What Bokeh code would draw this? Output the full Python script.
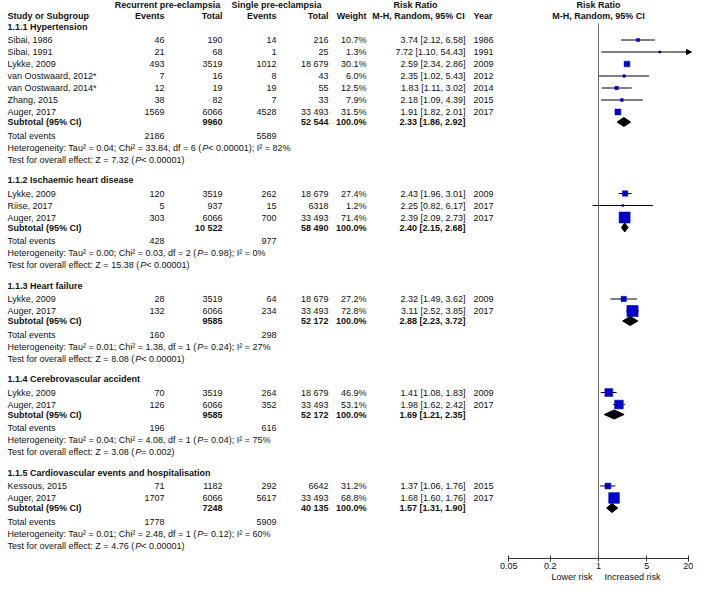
import math
from bokeh.plotting import figure
from bokeh.models import (Range1d, LogScale, LogAxis, FixedTicker, CustomJSTickFormatter,
                          Arrow, NormalHead)
from bokeh.core.properties import value
from bokeh.embed import file_html
from bokeh.resources import INLINE

# ---------------- data ----------------
groups = ["1.1.1 Hypertension", "1.1.2 Ischaemic heart disease", "1.1.3 Heart failure",
          "1.1.4 Cerebrovascular accident", "1.1.5 Cardiovascular events and hospitalisation"]

study = ["Sibai, 1986", "Sibai, 1991", "Lykke, 2009", "van Oostwaard, 2012*", "van Oostwaard, 2014*",
         "Zhang, 2015", "Auger, 2017",
         "Lykke, 2009", "Riise, 2017", "Auger, 2017",
         "Lykke, 2009", "Auger, 2017",
         "Lykke, 2009", "Auger, 2017",
         "Kessous, 2015", "Auger, 2017"]
group_of = [0, 0, 0, 0, 0, 0, 0, 1, 1, 1, 2, 2, 3, 3, 4, 4]
ev_rec = [46, 21, 493, 7, 12, 38, 1569, 120, 5, 303, 28, 132, 70, 126, 71, 1707]
tot_rec = [190, 68, 3519, 16, 19, 82, 6066, 3519, 937, 6066, 3519, 6066, 3519, 6066, 1182, 6066]
ev_sin = [14, 1, 1012, 8, 19, 7, 4528, 262, 15, 700, 64, 234, 264, 352, 292, 5617]
tot_sin = [216, 25, 18679, 43, 55, 33, 33493, 18679, 6318, 33493, 18679, 33493, 18679, 33493, 6642, 33493]
weight = [10.7, 1.3, 30.1, 6.0, 12.5, 7.9, 31.5, 27.4, 1.2, 71.4, 27.2, 72.8, 46.9, 53.1, 31.2, 68.8]
rr = [3.74, 7.72, 2.59, 2.35, 1.83, 2.18, 1.91, 2.43, 2.25, 2.39, 2.32, 3.11, 1.41, 1.98, 1.37, 1.68]
rr_lo = [2.12, 1.10, 2.34, 1.02, 1.11, 1.09, 1.82, 1.96, 0.82, 2.09, 1.49, 2.52, 1.08, 1.62, 1.06, 1.60]
rr_hi = [6.58, 54.43, 2.86, 5.43, 3.02, 4.39, 2.01, 3.01, 6.17, 2.73, 3.62, 3.85, 1.83, 2.42, 1.76, 1.76]
year = [1986, 1991, 2009, 2012, 2014, 2015, 2017, 2009, 2017, 2017, 2009, 2017, 2009, 2017, 2015, 2017]

sub_tot_rec = [9960, 10522, 9585, 9585, 7248]
sub_tot_sin = [52544, 58490, 52172, 52172, 40135]
sub_rr = [2.33, 2.40, 2.88, 1.69, 1.57]
sub_lo = [1.86, 2.15, 2.23, 1.21, 1.31]
sub_hi = [2.92, 2.68, 3.72, 2.35, 1.90]
sub_ev_rec = [2186, 428, 160, 196, 1778]
sub_ev_sin = [5589, 977, 298, 616, 5909]
tau2 = ["0.04", "0.00", "0.01", "0.04", "0.01"]
chi2 = ["33.84", "0.03", "1.38", "4.08", "2.48"]
dfree = [6, 2, 1, 1, 1]
p_het = ["< 0.00001", "= 0.98", "= 0.24", "= 0.04", "= 0.12"]
i2 = [82, 0, 27, 75, 60]
z_val = ["7.32", "15.38", "8.08", "3.08", "4.76"]
p_z = ["< 0.00001", "< 0.00001", "< 0.00001", "= 0.002", "< 0.00001"]

axis_ticks = [0.05, 0.2, 1, 5, 20]

# ---------------- layout ----------------
W, FH = 693, 558
FONT = "Liberation Sans"
FS = 9
TXT = "#111111"
BLUE = "#0000C8"
X_NAME, X_EV1, X_TOT1, X_EV2, X_TOT2, X_WT, X_RR, X_YEAR = 7, 164, 222, 276, 328, 366, 465, 473
X_RRHDR = 418
X_NULL, PPD = 598, 69.0
SHIFT = 2
HDR1_Y, HDR2_Y = 4.5, 15
HDR_TO_STUDY, STEP, TO_SUB, SUB_TO_TOT, LINE, GAP = 13.5, 12, 10, 13.5, 12, 20.5

# Arial / Liberation Sans advance widths (1/1000 em)
AW = {' ': 278, '%': 889, '(': 333, ')': 333, ',': 278, '-': 333, '.': 278, ':': 278, ';': 278,
      '<': 584, '=': 584, '>': 584, '²': 333, '*': 389,
      'C': 722, 'H': 722, 'I': 278, 'L': 556, 'P': 667, 'T': 611, 'Z': 611,
      'a': 556, 'b': 556, 'c': 500, 'd': 556, 'e': 556, 'f': 278, 'g': 556, 'h': 556, 'i': 222,
      'k': 500, 'l': 222, 'm': 833, 'n': 556, 'o': 556, 'p': 556, 'r': 333, 's': 500, 't': 278,
      'u': 556, 'v': 500, 'w': 722, 'y': 500}
for d in "0123456789":
    AW[d] = 556


def tw(s):
    return sum(AW.get(c, 556) for c in s) * FS / 1000.0


def fmt(n):
    return "{:,}".format(n).replace(",", " ") if n >= 10000 else str(n)


texts = {}


def put(x, y, s, align="left", style="normal"):
    texts.setdefault((align, style), ([], [], []))
    xs, ys, ss = texts[(align, style)]
    xs.append(x); ys.append(y); ss.append(s)


# headers
put((X_EV1 + X_TOT1) / 2 - 26, HDR1_Y, "Recurrent pre-eclampsia", "center", "bold")
put((X_EV2 + X_TOT2) / 2 - 26, HDR1_Y, "Single pre-eclampsia", "center", "bold")
put(X_RRHDR - 3, HDR1_Y, "Risk Ratio", "center", "bold")
put(X_NULL, HDR1_Y, "Risk Ratio", "center", "bold")
put(X_NAME, HDR2_Y, "Study or Subgroup", "left", "bold")
put(X_EV1, HDR2_Y, "Events", "right", "bold")
put(X_TOT1, HDR2_Y, "Total", "right", "bold")
put(X_EV2, HDR2_Y, "Events", "right", "bold")
put(X_TOT2, HDR2_Y, "Total", "right", "bold")
put(X_WT, HDR2_Y, "Weight", "right", "bold")
put(X_RRHDR, HDR2_Y, "M-H, Random, 95% CI", "center", "bold")
put(X_YEAR, HDR2_Y, "Year", "left", "bold")
put(X_NULL, HDR2_Y, "M-H, Random, 95% CI", "center", "bold")

study_y = [0.0] * len(study)
sub_y = []
y = 28 - SHIFT
top_line = y - 3
for gi, gname in enumerate(groups):
    put(X_NAME, y, gname, "left", "bold")
    y += HDR_TO_STUDY
    first = True
    for i in range(len(study)):
        if group_of[i] != gi:
            continue
        if not first:
            y += STEP
        first = False
        study_y[i] = y
        put(X_NAME, y, study[i])
        put(X_EV1, y, str(ev_rec[i]), "right")
        put(X_TOT1, y, fmt(tot_rec[i]), "right")
        put(X_EV2, y, str(ev_sin[i]), "right")
        put(X_TOT2, y, fmt(tot_sin[i]), "right")
        put(X_WT, y, f"{weight[i]:.1f}%", "right")
        put(X_RR, y, f"{rr[i]:.2f} [{rr_lo[i]:.2f}, {rr_hi[i]:.2f}]", "right")
        put(X_YEAR, y, str(year[i]))
    y += TO_SUB
    sub_y.append(y)
    put(X_NAME, y, "Subtotal (95% CI)", "left", "bold")
    put(X_TOT1, y, fmt(sub_tot_rec[gi]), "right", "bold")
    put(X_TOT2, y, fmt(sub_tot_sin[gi]), "right", "bold")
    put(X_WT, y, "100.0%", "right", "bold")
    put(X_RR, y, f"{sub_rr[gi]:.2f} [{sub_lo[gi]:.2f}, {sub_hi[gi]:.2f}]", "right", "bold")
    y += SUB_TO_TOT
    put(X_NAME, y, "Total events")
    put(X_EV1, y, str(sub_ev_rec[gi]), "right")
    put(X_EV2, y, str(sub_ev_sin[gi]), "right")
    y += LINE
    pre = f"Heterogeneity: Tau² = {tau2[gi]}; Chi² = {chi2[gi]}, df = {dfree[gi]} ("
    put(X_NAME, y, pre)
    put(X_NAME + tw(pre), y, "P", "left", "italic")
    put(X_NAME + tw(pre) + 667 * FS / 1000.0, y, f" {p_het[gi]}); I² = {i2[gi]}%")
    y += LINE
    pre = f"Test for overall effect: Z = {z_val[gi]} ("
    put(X_NAME, y, pre)
    put(X_NAME + tw(pre), y, "P", "left", "italic")
    put(X_NAME + tw(pre) + 667 * FS / 1000.0, y, f" {p_z[gi]})")
    y += GAP

# ---------------- figure ----------------
p = figure(frame_width=W, frame_height=FH, min_border=0, output_backend="svg",
           toolbar_location=None, x_axis_type=None, y_axis_type=None,
           x_range=Range1d(0, W), y_range=Range1d(FH, 0))
p.outline_line_color = None
p.grid.visible = False
p.extra_x_ranges = {"rr": Range1d(10 ** ((0 - X_NULL) / PPD), 10 ** ((W - X_NULL) / PPD))}
p.extra_x_scales = {"rr": LogScale()}

for (align, style), (xs, ys, ss) in texts.items():
    p.text(x=xs, y=ys, text=ss, text_align=align, text_baseline="middle",
           text_font=value(FONT), text_font_size=f"{FS}px", text_font_style=style,
           text_color=TXT)

# null line
p.segment(x0=[1], x1=[1], y0=[top_line], y1=[FH], x_range_name="rr",
          line_color="#666666", line_width=1)

# study CIs and boxes
rr_clip = 10 ** ((W - 2 - X_NULL) / PPD)
seg_x0, seg_x1, seg_y = [], [], []
for i in range(len(study)):
    if rr_hi[i] > rr_clip:
        p.add_layout(Arrow(end=NormalHead(size=5, fill_color="black", line_color="black"),
                           x_start=rr_lo[i], y_start=study_y[i], x_end=rr_clip, y_end=study_y[i],
                           x_range_name="rr", line_color="black", line_width=1))
    else:
        seg_x0.append(rr_lo[i]); seg_x1.append(rr_hi[i]); seg_y.append(study_y[i])
p.segment(x0=seg_x0, x1=seg_x1, y0=seg_y, y1=seg_y, x_range_name="rr",
          line_color="black", line_width=1)
sizes = [1.8 + 0.13 * w for w in weight]
p.scatter(x=rr, y=study_y, size=sizes, marker="square", x_range_name="rr",
          fill_color=BLUE, line_color=BLUE, line_width=0.5)

# subtotal diamonds
DH = 4.5
p.patches(xs=[[sub_lo[g], sub_rr[g], sub_hi[g], sub_rr[g]] for g in range(len(groups))],
          ys=[[sub_y[g], sub_y[g] - DH, sub_y[g], sub_y[g] + DH] for g in range(len(groups))],
          x_range_name="rr", fill_color="black", line_color="black")

# axis
ax = LogAxis(x_range_name="rr", ticker=FixedTicker(ticks=axis_ticks),
             formatter=CustomJSTickFormatter(code="return tick.toString();"),
             bounds=(axis_ticks[0], axis_ticks[-1]))
ax.major_tick_in = 3
ax.major_tick_out = 3
ax.minor_tick_line_color = None
ax.axis_line_color = "#333333"
ax.major_tick_line_color = "#333333"
ax.major_label_standoff = 1
ax.major_label_text_font = FONT
ax.major_label_text_font_size = f"{FS}px"
ax.major_label_text_color = TXT
p.add_layout(ax, "below")

lo_c = X_NULL - 6 - tw("Lower risk") / 2
hi_c = X_NULL + 6 + tw("Increased risk") / 2
ax2 = LogAxis(x_range_name="rr",
              ticker=FixedTicker(ticks=[10 ** ((lo_c - X_NULL) / PPD), 10 ** ((hi_c - X_NULL) / PPD)]),
              formatter=CustomJSTickFormatter(code="return tick < 1 ? 'Lower risk' : 'Increased risk';"))
ax2.axis_line_color = None
ax2.major_tick_line_color = None
ax2.minor_tick_line_color = None
ax2.major_tick_in = 0
ax2.major_tick_out = 0
ax2.major_label_standoff = 0
ax2.major_label_text_font = FONT
ax2.major_label_text_font_size = f"{FS}px"
ax2.major_label_text_color = TXT
p.add_layout(ax2, "below")

open("out.html", "w").write(file_html(p, INLINE))
